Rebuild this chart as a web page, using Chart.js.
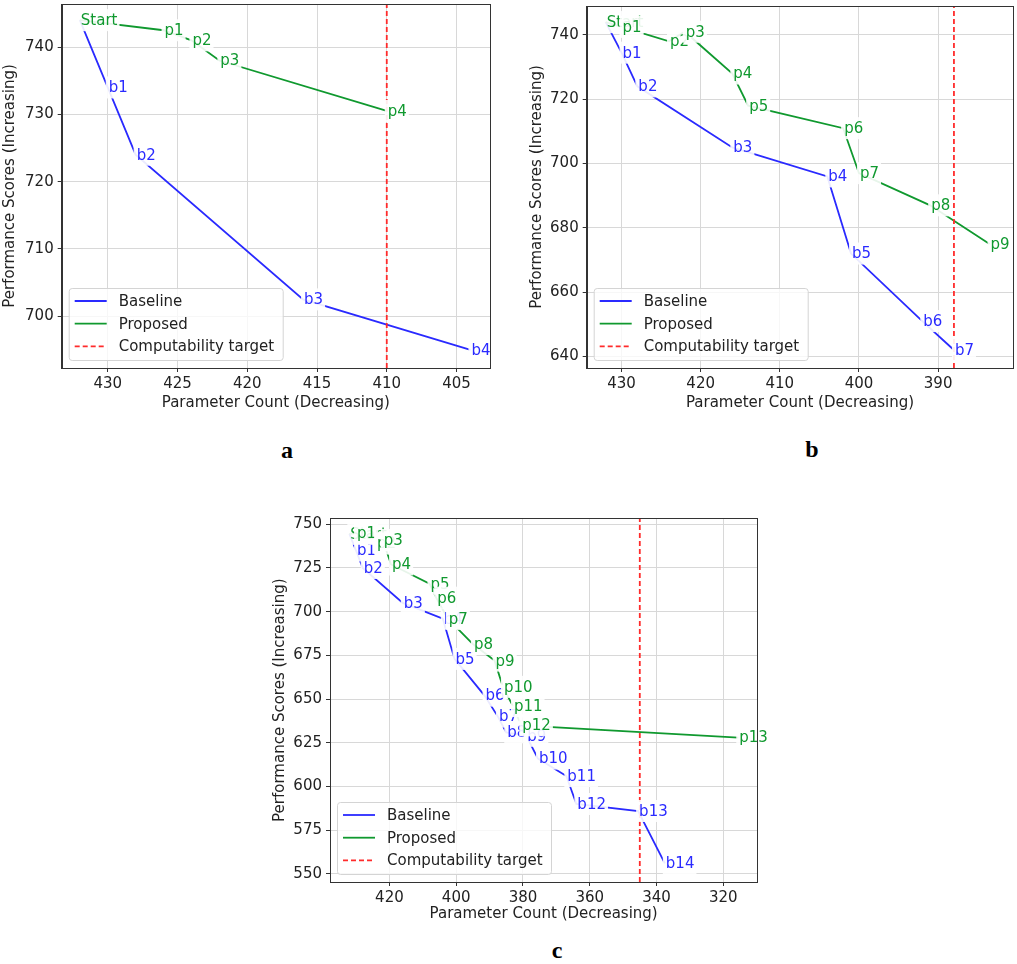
<!DOCTYPE html>
<html>
<head>
<meta charset="utf-8">
<script src="https://cdn.jsdelivr.net/npm/chart.js@4.4.0/dist/chart.umd.min.js"></script>
<style>
  html, body { margin:0; padding:0; background:#fff; }
  body { width:1017px; height:964px; position:relative; overflow:hidden; }
  .panel { position:absolute; }
  .panel canvas { display:block; }
  .tag { position:absolute; font: bold 24px "Liberation Serif", "Times New Roman", serif; color:#000; transform:translate(-50%,-50%); }
</style>
</head>
<body>
<div class="panel" style="left:0px; top:-10px; width:500px; height:430px;"><canvas id="chartA"></canvas></div>
<div class="panel" style="left:527px; top:-10px; width:490px; height:430px;"><canvas id="chartB"></canvas></div>
<div class="panel" style="left:270px; top:500px; width:497px; height:434px;"><canvas id="chartC"></canvas></div>
<div class="tag" style="left:287px; top:450px;">a</div>
<div class="tag" style="left:812px; top:449px;">b</div>
<div class="tag" style="left:557px; top:950px;">c</div>
<script>
// ---------- Panel a ----------
const aBaseNames = ['', 'b1','b2','b3','b4'];
const aBaseX = [432, 430, 428, 416, 404];
const aBaseY = [744, 734, 724, 702.5, 695];
const aPropNames = ['Start','p1','p2','p3','p4'];
const aPropX = [432, 426, 424, 422, 410];
const aPropY = [744, 742.5, 741, 738, 730.5];
const aTarget = 410;
const aXTicks = [430, 425, 420, 415, 410, 405];
const aYTicks = [700, 710, 720, 730, 740];
const aXLimits = [402.6, 433.3];
const aYLimits = [692.3, 746.4];

// ---------- Panel b ----------
const bBaseNames = ['', 'b1','b2','b3','b4','b5','b6','b7'];
const bBaseX = [432, 430, 428, 416, 404, 401, 392, 388];
const bBaseY = [744, 734.5, 724, 705, 696, 672, 651, 642];
const bPropNames = ['Start','p1','p2','p3','p4','p5','p6','p7','p8','p9'];
const bPropX = [432, 430, 424, 422, 416, 414, 402, 400, 391, 383.5];
const bPropY = [744, 742.5, 738, 741, 728, 718, 711, 697, 687, 675];
const bTarget = 388;
const bXTicks = [430, 420, 410, 400, 390];
const bYTicks = [640, 660, 680, 700, 720, 740];
const bXLimits = [380.5, 434.4];
const bYLimits = [636.4, 749];

// ---------- Panel c ----------
const cBaseNames = ['', 'b1','b2','b3','b4','b5','b6','b7','b8','b9','b10','b11','b12','b13','b14'];
const cBaseX = [432, 430, 428, 416, 404, 400.5, 391.5, 387.5, 385, 379, 375.5, 367, 364, 345.5, 337.5];
const cBaseY = [744.5, 735, 725, 705, 696, 673, 652, 640, 631, 629, 616, 606, 590, 586, 556];
const cPropNames = ['Start','p1','p2','p3','p4','p5','p6','p7','p8','p9','p10','p11','p12','p13'];
const cPropX = [432, 430, 424, 422, 419.5, 408, 406, 402.5, 395, 388.5, 386, 383, 380.5, 315.5];
const cPropY = [744.5, 745, 739, 741, 727, 716, 708, 696, 681.5, 672, 657, 646, 635, 628];
const cTarget = 345;
const cXTicks = [420, 400, 380, 360, 340, 320];
const cYTicks = [550, 575, 600, 625, 650, 675, 700, 725, 750];
const cXLimits = [309.8, 437.8];
const cYLimits = [545.4, 753.4];

const seriesNames = ['Baseline', 'Proposed', 'Computability target'];

const FONT = '"DejaVu Sans", Verdana, sans-serif';
const BLUE = '#2a2aff';
const GREEN = '#10992f';
const RED = '#ff2b2b';
const TEXT = '#222222';

function toPoints(xs, ys) { return xs.map((x, i) => ({ x: x, y: ys[i] })); }

const overlayPlugin = {
  id: 'overlay',
  afterDatasetsDraw(chart) {
    const ctx = chart.ctx;
    const xs = chart.scales.x, ys = chart.scales.y;
    const ca = chart.chartArea;
    ctx.save();
    // point labels with white boxes
    ctx.font = '15px ' + FONT;
    ctx.textBaseline = 'middle';
    ctx.textAlign = 'left';
    chart.data.datasets.forEach(ds => {
      if (!ds.pointNames) return;
      ds.data.forEach((p, i) => {
        const name = ds.pointNames[i];
        if (!name) return;
        const px = xs.getPixelForValue(p.x);
        const py = ys.getPixelForValue(p.y);
        const w = ctx.measureText(name).width;
        ctx.fillStyle = 'rgba(255,255,255,0.9)';
        ctx.fillRect(px - 2, py - 11, w + 5, 22);
        ctx.fillStyle = ds.borderColor;
        ctx.fillText(name, px + 1, py + 1);
      });
    });
    // legend (lower-left inside axes)
    const lx = ca.left + 7, lw = 214, lh = 72;
    const ly = ca.bottom - 8 - lh;
    ctx.beginPath();
    if (ctx.roundRect) ctx.roundRect(lx + 0.5, ly + 0.5, lw, lh, 3); else ctx.rect(lx + 0.5, ly + 0.5, lw, lh);
    ctx.fillStyle = 'rgba(255,255,255,0.8)';
    ctx.fill();
    ctx.strokeStyle = '#d4d4d4';
    ctx.lineWidth = 1;
    ctx.stroke();
    chart.data.datasets.forEach((ds, i) => {
      const ry = ly + 13 + i * 22.7;
      ctx.beginPath();
      ctx.setLineDash(ds.borderDash || []);
      ctx.strokeStyle = ds.borderColor;
      ctx.lineWidth = 1.8;
      ctx.moveTo(lx + 6, ry);
      ctx.lineTo(lx + 38, ry);
      ctx.stroke();
      ctx.setLineDash([]);
      ctx.fillStyle = TEXT;
      ctx.fillText(ds.label, lx + 50, ry + 1);
    });
    // spines
    ctx.strokeStyle = '#333';
    ctx.lineWidth = 1;
    ctx.strokeRect(Math.round(ca.left) + 0.5, Math.round(ca.top) + 0.5,
                   Math.round(ca.right) - Math.round(ca.left), Math.round(ca.bottom) - Math.round(ca.top));
    ctx.restore();
  }
};

function makeChart(id, d, lay) {
  const datasets = [
    { label: seriesNames[0], data: toPoints(d.bx, d.by), pointNames: d.bn, borderColor: BLUE,
      borderWidth: 1.8, pointRadius: 0, showLine: true, tension: 0, order: 2 },
    { label: seriesNames[1], data: toPoints(d.px, d.py), pointNames: d.pn, borderColor: GREEN,
      borderWidth: 1.8, pointRadius: 0, showLine: true, tension: 0, order: 1 },
    { label: seriesNames[2], data: [{ x: d.target, y: d.yl[0] }, { x: d.target, y: d.yl[1] }],
      borderColor: RED, borderDash: [5, 3], borderWidth: 1.8, pointRadius: 0, showLine: true, order: 0 }
  ];
  const tickFont = { family: FONT, size: 15 };
  return new Chart(document.getElementById(id), {
    type: 'scatter',
    data: { datasets: datasets },
    options: {
      responsive: true, maintainAspectRatio: false, animation: false,
      layout: { padding: { left: 0, right: lay.right, top: lay.top, bottom: 0 } },
      plugins: { legend: { display: false }, tooltip: { enabled: false } },
      scales: {
        x: {
          type: 'linear', reverse: true, min: d.xl[0], max: d.xl[1],
          afterBuildTicks: s => { s.ticks = d.xt.map(v => ({ value: v })); },
          afterFit: s => { s.height = 52; },
          ticks: { font: tickFont, color: TEXT, padding: 3, maxRotation: 0, autoSkip: false },
          grid: { color: '#d8d8d8', lineWidth: 1, tickLength: 4, tickColor: '#333', tickWidth: 1 },
          border: { color: '#333', width: 1 },
          title: { display: true, text: 'Parameter Count (Decreasing)', font: tickFont, color: TEXT,
                   padding: { top: 0, bottom: lay.xTitlePad } }
        },
        y: {
          type: 'linear', min: d.yl[0], max: d.yl[1],
          afterBuildTicks: s => { s.ticks = d.yt.map(v => ({ value: v })); },
          afterFit: s => { s.width = lay.yw; },
          ticks: { font: tickFont, color: TEXT, padding: 4, autoSkip: false },
          grid: { color: '#d8d8d8', lineWidth: 1, tickLength: 4, tickColor: '#333', tickWidth: 1 },
          border: { color: '#333', width: 1 },
          title: { display: true, text: 'Performance Scores (Increasing)', font: tickFont, color: TEXT,
                   padding: { top: 1, bottom: 0 } }
        }
      }
    },
    plugins: [overlayPlugin]
  });
}

makeChart('chartA',
  { bx: aBaseX, by: aBaseY, bn: aBaseNames, px: aPropX, py: aPropY, pn: aPropNames,
    target: aTarget, xt: aXTicks, yt: aYTicks, xl: aXLimits, yl: aYLimits },
  { right: 10, top: 14, yw: 61.7, xTitlePad: 7.5 });
makeChart('chartB',
  { bx: bBaseX, by: bBaseY, bn: bBaseNames, px: bPropX, py: bPropY, pn: bPropNames,
    target: bTarget, xt: bXTicks, yt: bYTicks, xl: bXLimits, yl: bYLimits },
  { right: 3.7, top: 16, yw: 59.7, xTitlePad: 7.5 });
makeChart('chartC',
  { bx: cBaseX, by: cBaseY, bn: cBaseNames, px: cPropX, py: cPropY, pn: cPropNames,
    target: cTarget, xt: cXTicks, yt: cYTicks, xl: cXLimits, yl: cYLimits },
  { right: 9.7, top: 18.3, yw: 60, xTitlePad: 11 });
</script>
</body>
</html>
